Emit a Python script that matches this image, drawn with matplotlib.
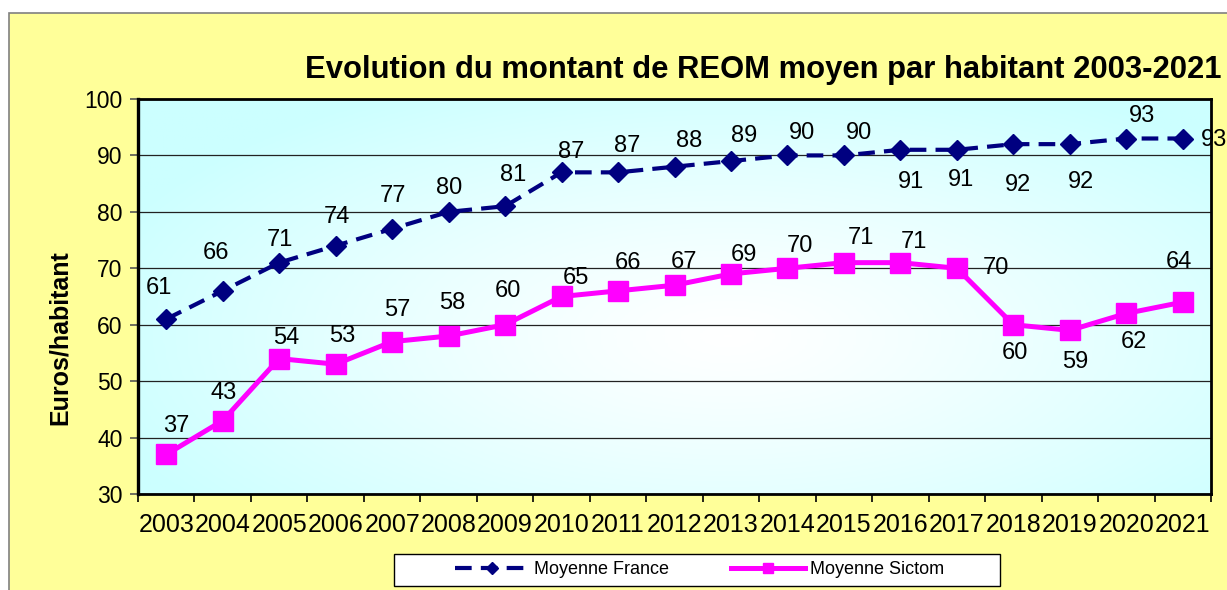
import numpy as np
import matplotlib
matplotlib.use("Agg")
import matplotlib.pyplot as plt
from matplotlib.patches import Rectangle
from matplotlib.colors import LinearSegmentedColormap

plt.rcParams['font.family'] = ['Liberation Sans', 'DejaVu Sans']

# données
annees = ['2003', '2004', '2005', '2006', '2007', '2008', '2009', '2010', '2011', '2012',
          '2013', '2014', '2015', '2016', '2017', '2018', '2019', '2020', '2021']
moyenne_france = [61, 66, 71, 74, 77, 80, 81, 87, 87, 88, 89, 90, 90, 91, 91, 92, 92, 93, 93]
moyenne_sictom = [37, 43, 54, 53, 57, 58, 60, 65, 66, 67, 69, 70, 71, 71, 70, 60, 59, 62, 64]

# décalage des étiquettes (pixels) par rapport aux points
decal_france = [(-7, 31), (-7, 38), (1, 23), (1, 29), (1, 33), (1, 24), (8, 31), (10, 20),
                (9, 26), (15, 26), (13, 25), (15, 22), (15, 22), (11, -32), (4, -30),
                (5, -41), (11, -38), (16, 23), (31, -1)]
decal_sictom = [(10, 28), (1, 28), (7, 21), (7, 28), (5, 32), (4, 33), (3, 34), (14, 19),
                (10, 28), (10, 23), (13, 19), (12, 22), (17, 25), (14, 21), (39, 0),
                (2, -28), (5, -32), (8, -29), (-4, 40)]

W, H = 1227, 590
fig = plt.figure(figsize=(W / 100, H / 100), dpi=100, facecolor='white')

# cadre jaune du graphique
fig.patches.append(Rectangle((9 / W, -0.05), 1.2, 1.05 - 13 / H, transform=fig.transFigure,
                             facecolor='#FFFF99', edgecolor='#808080', linewidth=1.2, zorder=-10))

ax = fig.add_axes([138 / W, 1 - 494 / H, (1211 - 138) / W, (494 - 99) / H])
ax.set_facecolor('none')

# dégradé du fond (blanc au centre, cyan sur les bords)
gx, gy = np.meshgrid(np.linspace(0, 1, 400), np.linspace(0, 1, 200))
d = np.sqrt(((gx - 0.55) / 0.62) ** 2 + ((gy - 0.40) / 0.72) ** 2)
d = np.clip(d, 0, 1) ** 1.2
cmap = LinearSegmentedColormap.from_list('fond', ['#FFFFFF', '#CCFFFF'])
ax.imshow(d, cmap=cmap, extent=[0, 1, 0, 1], origin='lower', aspect='auto',
          transform=ax.transAxes, zorder=0, vmin=0, vmax=1)

x = np.arange(len(annees))
ax.plot(x, moyenne_france, color='#000080', linewidth=3, linestyle=(0, (4, 2.2)),
        marker='D', markersize=10.5, label='Moyenne France', zorder=3)
ax.plot(x, moyenne_sictom, color='#FF00FF', linewidth=3.6, marker='s', markersize=14,
        label='Moyenne Sictom', zorder=3)

for xi, v, (dx, dy) in zip(x, moyenne_france, decal_france):
    ax.annotate(str(v), (xi, v), xytext=(dx, dy), textcoords='offset pixels',
                ha='center', va='center', fontsize=17, color='black', zorder=4)
for xi, v, (dx, dy) in zip(x, moyenne_sictom, decal_sictom):
    ax.annotate(str(v), (xi, v), xytext=(dx, dy), textcoords='offset pixels',
                ha='center', va='center', fontsize=17, color='black', zorder=4)

ax.set_xlim(-0.5, len(annees) - 0.5)
ax.set_ylim(30, 100)
ax.set_yticks(range(30, 101, 10))
ax.yaxis.grid(True, color='#222222', linewidth=0.9)
ax.set_axisbelow(True)

ax.set_xticks(x)
ax.set_xticklabels(annees, fontsize=18)
ax.set_xticks(np.arange(-0.5, len(annees), 1), minor=True)
ax.tick_params(axis='x', which='major', length=0, pad=14)
ax.tick_params(axis='x', which='minor', length=6, width=1.2, color='black', direction='out')
ax.tick_params(axis='y', length=6, width=1.2, color='#555555', labelsize=16.5, pad=5)

for s in ax.spines.values():
    s.set_linewidth(2)
    s.set_color('black')
ax.spines['left'].set_linewidth(2.4)

fig.text(60 / W, 1 - 338 / H, 'Euros/habitant', rotation=90, ha='center', va='center',
         fontsize=18, fontweight='bold')
fig.text(305 / W, 1 - 70 / H, 'Evolution du montant de REOM moyen par habitant 2003-2021',
         ha='left', va='center', fontsize=22.3, fontweight='bold')

# légende : cadre blanc puis entrées
fig.patches.append(Rectangle((394 / W, 1 - 586 / H), (1000 - 394) / W, 32 / H,
                             transform=fig.transFigure, facecolor='white',
                             edgecolor='black', linewidth=1, zorder=5))
leg = fig.legend(loc='center left', bbox_to_anchor=(455 / W, 1 - 570 / H),
                 ncol=2, fontsize=13, frameon=False, handlelength=4.1,
                 handletextpad=0.3, columnspacing=3.4, markerscale=0.55,
                 borderaxespad=0, borderpad=0)
leg.set_zorder(6)

fig.savefig('out.png', dpi=100, facecolor='white')
